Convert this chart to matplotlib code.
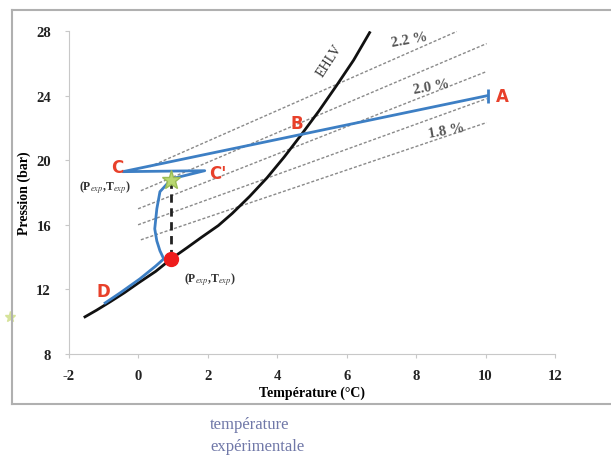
import numpy as np
import matplotlib
matplotlib.use("Agg")
import matplotlib.pyplot as plt
from matplotlib.lines import Line2D

plt.rcParams['font.family'] = ['Liberation Serif', 'DejaVu Serif']
plt.rcParams['mathtext.fontset'] = 'stix'
plt.rcParams['axes.unicode_minus'] = False

# courbe d'equilibre EHLV
ehlv_T = [-1.54, -1.2, -0.8, -0.4, 0.0, 0.5, 0.95, 1.4, 1.8, 2.3, 2.7, 3.2, 3.7, 4.2, 4.7, 5.2, 5.7, 6.2, 6.66]
ehlv_P = [10.3, 10.72, 11.25, 11.8, 12.4, 13.12, 13.9, 14.58, 15.2, 15.95, 16.7, 17.75, 18.9, 20.2, 21.6, 23.05, 24.6, 26.2, 27.9]

# chemin experimental A -> B -> C -> C' -> D
chemin_T = [10.06, 4.7, -0.45, 1.91, 0.96, 0.62, 0.53, 0.47, 0.53, 0.62, 0.73, 0.5, 0.04, -0.53, -0.96]
chemin_P = [24.0, 21.6, 19.29, 19.35, 18.85, 18.05, 16.99, 15.75, 15.0, 14.39, 13.89, 13.45, 12.65, 11.78, 11.16]

# isoplethes (debut / fin)
iso_T0 = [0.33, 0.07, -0.01, -0.01, 0.07]
iso_P0 = [19.6, 18.11, 16.99, 16.0, 15.07]
iso_T1 = [9.17, 10.03, 10.03, 10.03, 10.03]
iso_P1 = [27.97, 27.22, 25.49, 23.81, 22.33]
iso_noms = ["2.2 %", "2.0 %", "1.8 %"]

T_exp = 0.93
P_etoile = 18.8
P_eq = 13.9

fig = plt.figure(figsize=(6.11, 4.6), dpi=100)
ax = fig.add_axes([69/611, 1-355/460, 486/611, 323/460])

for i in range(len(iso_T0)):
    ax.plot([iso_T0[i], iso_T1[i]], [iso_P0[i], iso_P1[i]], color='#8a8a8a',
            lw=1, linestyle=(0, (2.2, 1.4)))

ax.plot(ehlv_T, ehlv_P, color='#111111', lw=2)
ax.plot(chemin_T, chemin_P, color='#3d7fc4', lw=2)
ax.plot([chemin_T[0]], [chemin_P[0]], marker='|', ms=10, mew=2, color='#3d7fc4')

ax.plot([T_exp, T_exp], [P_etoile, P_eq], color='#222222', lw=2, linestyle=(0, (3, 2)))
ax.plot([T_exp], [P_eq], 'o', color='#ee1c1c', ms=10)
ax.plot([T_exp], [P_etoile], marker='*', color='#b9d870', mec='#9bbd55', ms=14)
ax.plot([-3.7], [10.29], marker='*', color='#d6e39a', ms=8, clip_on=False)

rouge = '#e8402a'
for nom, t, p in [("A", 10.49, 24.0), ("B", 4.55, 22.3), ("C", -0.62, 19.55),
                  ("C'", 2.3, 19.2), ("D", -1.02, 11.9)]:
    ax.text(t, p, nom, color=rouge, fontsize=12, fontweight='bold',
            family='DejaVu Sans', ha='center', va='center')

lab = r'(P$_{exp}$,T$_{exp}$)'
ax.text(-0.96, 18.4, lab, fontsize=8.5, fontweight='bold', color='#333333', ha='center', va='center')
ax.text(2.05, 12.65, lab, fontsize=8.5, fontweight='bold', color='#333333', ha='center', va='center')

ax.text(5.5, 26.2, "EHLV", rotation=57, fontsize=10, color='#333333', ha='center', va='center')
for nom, t, p in zip(iso_noms, [7.81, 8.45, 8.88], [27.5, 24.6, 21.85]):
    ax.text(t, p, nom, fontsize=10.5, fontweight='bold', color='#555555',
            rotation=10, ha='center', va='center')

ax.set_xlim(-2, 12)
ax.set_ylim(8, 28)
ax.set_xticks(np.arange(-2, 13, 2))
ax.set_yticks(np.arange(8, 29, 4))
for s in ['top', 'right']:
    ax.spines[s].set_visible(False)
for s in ['left', 'bottom']:
    ax.spines[s].set_color('#c8c8c8')
ax.tick_params(colors='#c8c8c8', labelcolor='#222222', labelsize=10.5, length=3)
ax.tick_params(axis='y', pad=10)
ax.tick_params(axis='x', pad=8)
for t in ax.get_xticklabels() + ax.get_yticklabels():
    t.set_fontweight('bold')
ax.set_xlabel("Température (°C)", fontsize=10, fontweight='bold', labelpad=2)
ax.set_ylabel("Pression (bar)", fontsize=10, fontweight='bold', labelpad=4)

# cadre autour du graphique
for xs, ys in [([12/611, 1.0], [1-11/460, 1-11/460]),
               ([12/611, 12/611], [1-11/460, 1-405/460]),
               ([12/611, 1.0], [1-405/460, 1-405/460])]:
    fig.add_artist(Line2D(xs, ys, color='#b0b0b0', lw=1.5, transform=fig.transFigure))

fig.text(210/611, 1-425/460, "température", fontsize=12, color='#7078a8', va='center')
fig.text(210/611, 1-447/460, "expérimentale", fontsize=12, color='#7078a8', va='center')

plt.savefig("out.png", dpi=100)
